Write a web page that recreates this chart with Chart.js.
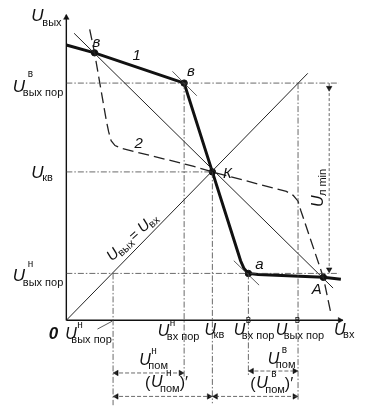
<!DOCTYPE html>
<html lang="ru">
<head>
<meta charset="utf-8">
<title>Передаточная характеристика</title>
<script src="https://cdn.jsdelivr.net/npm/chart.js@4.4.1/dist/chart.umd.min.js"></script>
<style>
  html, body { margin: 0; padding: 0; background: #fff; }
</style>
</head>
<body>
<canvas id="grafico" width="378" height="418"></canvas>
<script>
// Dados (unidades arbitrárias, 1 = 10 px)
const curva1X = [0, 2.9, 12.1, 15.0, 17.9, 18.25, 18.7, 19.7, 26.4, 28.2];
const curva1Y = [28.2, 27.4, 24.3, 15.2, 6.1, 5.3, 4.8, 4.7, 4.4, 4.2];

const curva2X = [2.4, 2.9, 4.1, 4.35, 4.6, 5.0, 5.7, 13.0, 15.0, 22.6, 23.3, 23.8, 24.1, 26.4, 27.2];
const curva2Y = [29.8, 27.4, 20.5, 19.3, 18.4, 17.9, 17.6, 15.8, 15.2, 13.2, 12.8, 12.2, 11.2, 4.4, 0.6];

const retaInvX = [0.8, 27.4];
const retaInvY = [29.4, 3.3];
const diagX = [0, 24.8];
const diagY = [0, 25.3];

const tangBX = [10.9, 13.4];
const tangBY = [25.5, 23.0];
const tangAX = [17.2, 19.8];
const tangAY = [6.1, 3.6];

const pontosX = [2.9, 12.1, 15.0, 18.7, 26.4];
const pontosY = [27.4, 24.3, 15.2, 4.8, 4.4];

// limiares
const uVyhPorN = 4.8;
const uVyhPorVx = 23.8;
const uVyhPorVy = 24.3;
const uVhPorN = 12.1;
const uVhPorV = 18.7;
const uKvX = 15.0;
const uKvY = 15.2;
const uLminX = 27.0;

const eixoXmax = 28.4;
const eixoYmax = 31.3;

function pares(xs, ys) {
    return xs.map((x, i) => ({ x: x, y: ys[i] }));
}

function linha(xs, ys, cor, largura, tracejado) {
    return {
        data: pares(xs, ys),
        showLine: true,
        borderColor: cor,
        borderWidth: largura,
        borderDash: tracejado || [],
        pointRadius: 0,
        fill: false,
        tension: 0
    };
}

const traco = [6, 2, 1.5, 2];
const corGuia = '#444';
const guias = [
    linha([0, 28.0], [uVyhPorVy, uVyhPorVy], corGuia, 0.8, traco),
    linha([0, uKvX], [uKvY, uKvY], corGuia, 0.8, traco),
    linha([0, 28.0], [uVyhPorN, uVyhPorN], corGuia, 0.8, traco),
    linha([uVyhPorN, uVyhPorN], [uVyhPorN, -8.7], corGuia, 0.8, traco),
    linha([uVhPorN, uVhPorN], [uVyhPorVy, -6.0], corGuia, 0.8, traco),
    linha([uKvX, uKvX], [uKvY, -8.5], corGuia, 0.8, traco),
    linha([uVhPorV, uVhPorV], [uVyhPorN, -5.7], corGuia, 0.8, traco),
    linha([uVyhPorVx, uVyhPorVx], [uVyhPorVy, -8.2], corGuia, 0.8, traco),
    linha([uLminX, uLminX], [uVyhPorVy, uVyhPorN], corGuia, 0.8, [3, 2]),
    // cotas embaixo
    linha([uVyhPorN, uVhPorN], [-5.4, -5.4], corGuia, 0.8, [4, 2]),
    linha([uVhPorV, uVyhPorVx], [-5.2, -5.2], corGuia, 0.8, [4, 2]),
    linha([uVyhPorN, uVyhPorVx], [-7.8, -7.8], corGuia, 0.8, [4, 2])
];

const setasX = [0, 28.1, 5.15, 11.75, 19.05, 23.45, 5.15, 14.65, 15.35, 23.45, uLminX, uLminX];
const setasY = [31.0, 0, -5.4, -5.4, -5.2, -5.2, -7.8, -7.8, -7.8, -7.8, 23.8, 5.2];
const setasRot = [0, 90, 270, 90, 270, 90, 270, 90, 270, 90, 180, 180];

const datasets = [
    ...guias,
    linha([0, 0], [0, eixoYmax], '#111', 1.4),
    linha([0, eixoXmax], [0, 0], '#111', 1.4),
    linha(diagX, diagY, '#222', 1),
    linha(retaInvX, retaInvY, '#222', 1),
    linha(tangBX, tangBY, '#333', 0.8),
    linha(tangAX, tangAY, '#333', 0.8),
    linha([3.2, 4.7], [-0.9, -0.1], '#333', 0.8),
    linha(curva2X, curva2Y, '#222', 1.3, [11, 5]),
    linha(curva1X, curva1Y, '#111', 3),
    {
        data: pares(pontosX, pontosY),
        showLine: false,
        pointRadius: 3.2,
        pointBackgroundColor: '#111',
        pointBorderColor: '#111'
    },
    {
        data: pares(setasX, setasY),
        showLine: false,
        pointStyle: 'triangle',
        pointRadius: 3.2,
        rotation: setasRot,
        pointBackgroundColor: '#111',
        pointBorderColor: '#111',
        pointBorderWidth: 0.5
    }
];

// rótulos: U com índice superior / inferior
const rotulosU = [
    { x: -3.6, y: 30.7, fs: 17, sub: 'вых', sdx: 11, sdy: 5 },
    { x: -5.5, y: 23.4, fs: 17, sup: 'в', pdx: 15, pdy: -15, sub: 'вых пор', sdx: 10, sdy: 4 },
    { x: -3.6, y: 14.6, fs: 17, sub: 'кв', sdx: 11, sdy: 3 },
    { x: -5.5, y: 4.0, fs: 17, sup: 'н', pdx: 15, pdy: -14, sub: 'вых пор', sdx: 10, sdy: 5 },
    { x: -0.1, y: -1.9, sup: 'н', pdx: 12, pdy: -11, sub: 'вых пор', sdx: 6, sdy: 4 },
    { x: 9.4, y: -1.6, sup: 'н', pdx: 12, pdy: -10, sub: 'вх пор', sdx: 9, sdy: 4 },
    { x: 14.2, y: -1.5, sub: 'кв', sdx: 9, sdy: 3 },
    { x: 17.2, y: -1.5, sup: 'в', pdx: 12, pdy: -12, sub: 'вх пор', sdx: 8, sdy: 4 },
    { x: 21.5, y: -1.5, sup: 'в', pdx: 19, pdy: -12, sub: 'вых пор', sdx: 8, sdy: 4 },
    { x: 27.5, y: -1.5, sub: 'вх', sdx: 9, sdy: 3 },
    { x: 7.5, y: -4.6, sup: 'н', pdx: 12, pdy: -11, sub: 'пом', sdx: 9, sdy: 4 },
    { x: 8.7, y: -6.8, sup: 'н', pdx: 15, pdy: -11, sub: 'пом', sdx: 9, sdy: 5, pre: '(', pos: ')′' },
    { x: 20.7, y: -4.5, sup: 'в', pdx: 14, pdy: -11, sub: 'пом', sdx: 8, sdy: 4 },
    { x: 19.5, y: -6.9, sup: 'в', pdx: 15, pdy: -11, sub: 'пом', sdx: 9, sdy: 5, pre: '(', pos: ')′' }
];

const marcas = [
    { t: '1', x: 6.8, y: 26.7 },
    { t: '2', x: 7.0, y: 17.7 },
    { t: 'в', x: 2.7, y: 28.0 },
    { t: 'в', x: 12.4, y: 25.0 },
    { t: 'К', x: 16.1, y: 14.6 },
    { t: 'а', x: 19.4, y: 5.3 },
    { t: 'А', x: 25.2, y: 2.7 }
];

const FONTE = '"Liberation Sans", "DejaVu Sans", sans-serif';

function desenhaU(ctx, px, py, r) {
    ctx.save();
    ctx.fillStyle = '#111';
    ctx.textBaseline = 'alphabetic';
    const fs = r.fs || 16;
    let x0 = px;
    if (r.pre) {
        ctx.font = '16px ' + FONTE;
        ctx.fillText(r.pre, x0 - 6, py + 1);
    }
    ctx.font = 'italic ' + fs + 'px ' + FONTE;
    ctx.fillText('U', x0, py);
    if (r.sup) {
        ctx.font = '10px ' + FONTE;
        ctx.fillText(r.sup, x0 + r.pdx, py + r.pdy);
    }
    if (r.sub) {
        ctx.font = '11px ' + FONTE;
        ctx.fillText(r.sub, x0 + r.sdx, py + r.sdy);
        if (r.pos) {
            const w = ctx.measureText(r.sub).width;
            ctx.font = '16px ' + FONTE;
            ctx.fillText(r.pos, x0 + r.sdx + w, py + 1);
        }
    }
    ctx.restore();
}

const textos = {
    id: 'textos',
    afterDatasetsDraw(chart) {
        const ctx = chart.ctx;
        const sx = chart.scales.x;
        const sy = chart.scales.y;

        rotulosU.forEach(r => {
            desenhaU(ctx, sx.getPixelForValue(r.x), sy.getPixelForValue(r.y), r);
        });

        // origem
        ctx.save();
        ctx.fillStyle = '#111';
        ctx.font = 'italic bold 17px ' + FONTE;
        ctx.fillText('0', sx.getPixelForValue(-1.8), sy.getPixelForValue(-1.9));

        ctx.font = 'italic 15px ' + FONTE;
        marcas.forEach(m => {
            ctx.fillText(m.t, sx.getPixelForValue(m.x), sy.getPixelForValue(m.y));
        });

        // U_вых = U_вх ao longo da diagonal
        ctx.save();
        ctx.translate(sx.getPixelForValue(4.7), sy.getPixelForValue(6.0));
        ctx.rotate(-Math.PI / 4.2);
        ctx.font = 'italic 15px ' + FONTE;
        ctx.fillText('U', 0, 0);
        ctx.font = '11px ' + FONTE;
        ctx.fillText('вых', 10, 3);
        ctx.font = '14px ' + FONTE;
        ctx.fillText('=', 30, 0);
        ctx.font = 'italic 15px ' + FONTE;
        ctx.fillText('U', 42, 0);
        ctx.font = '11px ' + FONTE;
        ctx.fillText('вх', 52, 3);
        ctx.restore();

        // U_л min vertical
        ctx.save();
        ctx.translate(sx.getPixelForValue(26.4), sy.getPixelForValue(11.6));
        ctx.rotate(-Math.PI / 2);
        ctx.font = 'italic 16px ' + FONTE;
        ctx.fillText('U', 0, 0);
        ctx.font = '11px ' + FONTE;
        ctx.fillText('л min', 11, 3);
        ctx.restore();

        ctx.restore();
    }
};

new Chart(document.getElementById('grafico'), {
    type: 'scatter',
    data: { datasets: datasets },
    options: {
        responsive: false,
        animation: false,
        layout: { padding: 0 },
        scales: {
            x: { type: 'linear', min: -6.3, max: 31.5, display: false },
            y: { type: 'linear', min: -9.5, max: 32.3, display: false }
        },
        plugins: {
            legend: { display: false },
            tooltip: { enabled: false }
        }
    },
    plugins: [textos]
});
</script>
</body>
</html>
